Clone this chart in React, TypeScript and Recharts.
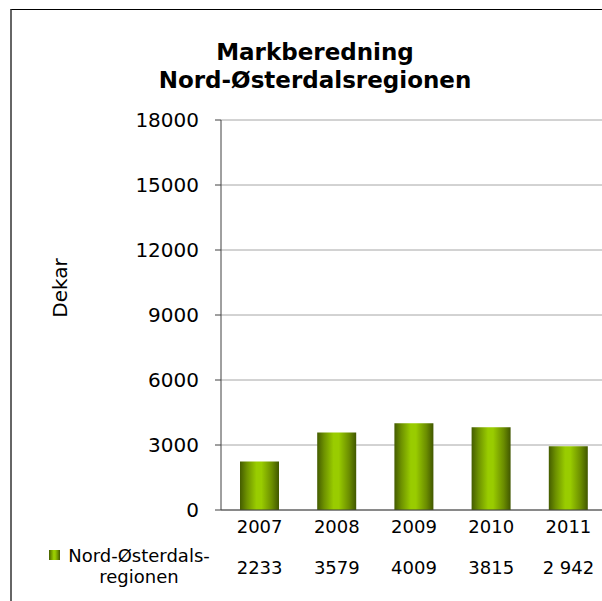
import React from "react";
import { BarChart, Bar, XAxis, YAxis, CartesianGrid } from "recharts";

const years = ["2007", "2008", "2009", "2010", "2011"];
const values = [2233, 3579, 4009, 3815, 2942];
const tableLabels = ["2233", "3579", "4009", "3815", "2 942"];
const yTicks = [0, 3000, 6000, 9000, 12000, 15000, 18000];
const seriesName = ["Nord-Østerdals-", "regionen"];

const data = years.map((year, i) => ({ year, value: values[i], label: tableLabels[i] }));

const FONT = "'DejaVu Sans', Verdana, sans-serif";

function TableTick(props: any) {
  const { x, y, index, payload } = props;
  return (
    <g>
      <text x={x} y={y + 23} textAnchor="middle" fontSize={18} fill="#000" fontFamily={FONT}>
        {payload.value}
      </text>
      <text x={x} y={y + 64} textAnchor="middle" fontSize={18} fill="#000" fontFamily={FONT}>
        {tableLabels[index]}
      </text>
    </g>
  );
}

export default function App() {
  return (
    <div
      style={{
        position: "absolute",
        left: 0,
        top: 0,
        width: 602,
        height: 601,
        overflow: "hidden",
        background: "#fff",
        fontFamily: FONT,
      }}
    >
      <svg width={0} height={0} style={{ position: "absolute" }}>
        <defs>
          <linearGradient id="barGrad" x1="0" y1="0" x2="1" y2="0">
            <stop offset="0%" stopColor="#445c00" />
            <stop offset="18%" stopColor="#6e9200" />
            <stop offset="42%" stopColor="#99cc00" />
            <stop offset="55%" stopColor="#99cc00" />
            <stop offset="82%" stopColor="#6b8d00" />
            <stop offset="100%" stopColor="#415700" />
          </linearGradient>
        </defs>
      </svg>
      <div
        style={{
          position: "absolute",
          left: 10,
          top: 9,
          width: 700,
          height: 700,
          borderTop: "1px solid #000",
          borderLeft: "2px solid #666",
        }}
      />
      <div style={{ position: "absolute", left: 0, top: 0 }}>
        <BarChart
          width={602}
          height={601}
          data={data}
          margin={{ top: 120, right: -5, left: 0, bottom: 0 }}
          barSize={39}
        >
          <CartesianGrid vertical={false} stroke="#a6a6a6" />
          <XAxis
            dataKey="year"
            axisLine={{ stroke: "#404040" }}
            tickLine={false}
            tickSize={0}
            tickMargin={0}
            height={91}
            interval={0}
            tick={<TableTick />}
          />
          <YAxis
            width={221}
            domain={[0, 18000]}
            ticks={yTicks}
            interval={0}
            axisLine={{ stroke: "#404040" }}
            tickLine={{ stroke: "#404040" }}
            tickSize={6}
            tickMargin={16}
            tick={{ fontSize: 20, fill: "#000", fontFamily: FONT }}
          />
          <Bar dataKey="value" name="Nord-Østerdalsregionen" fill="url(#barGrad)" isAnimationActive={false} />
        </BarChart>
      </div>
      <svg
        width={602}
        height={601}
        style={{ position: "absolute", left: 0, top: 0, pointerEvents: "none" }}
      >
        <text x={315} y={60} textAnchor="middle" fontSize={23} fontWeight="bold" fill="#000" fontFamily={FONT}>
          Markberedning
        </text>
        <text x={315} y={88} textAnchor="middle" fontSize={23} fontWeight="bold" fill="#000" fontFamily={FONT}>
          Nord-Østerdalsregionen
        </text>
        <text
          transform="translate(67 288) rotate(-90)"
          textAnchor="middle"
          fontSize={20}
          fill="#000"
          fontFamily={FONT}
        >
          Dekar
        </text>
        <rect x={49} y={550} width={11} height={10} fill="url(#barGrad)" />
        <text x={139} y={562} textAnchor="middle" fontSize={18} fill="#000" fontFamily={FONT}>
          {seriesName[0]}
        </text>
        <text x={139} y={583} textAnchor="middle" fontSize={18} fill="#000" fontFamily={FONT}>
          {seriesName[1]}
        </text>
      </svg>
    </div>
  );
}
